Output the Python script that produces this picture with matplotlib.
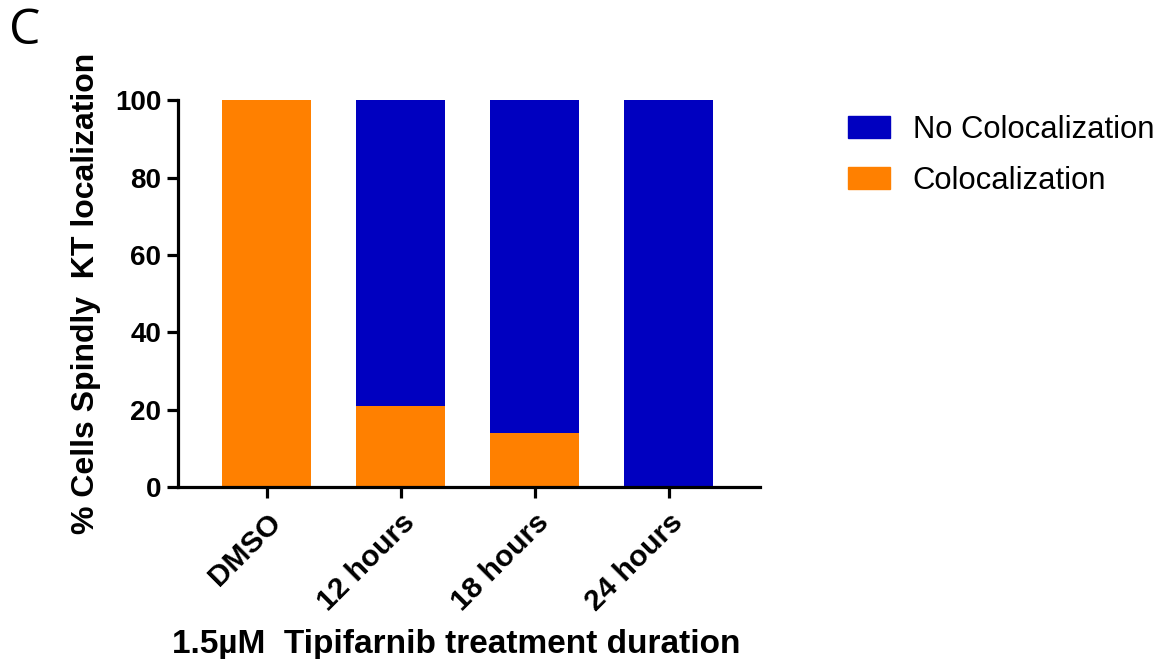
import matplotlib.pyplot as plt
from matplotlib.patches import Patch

# --- DATA ---
groups = ["DMSO", "12 hours", "18 hours", "24 hours"]
coloc = [100, 21, 14, 0]
no_coloc = [0, 79, 86, 100]

BLUE = "#0000C0"
ORANGE = "#FF8000"

plt.rcParams['font.family'] = ['Liberation Sans', 'DejaVu Sans']

fig = plt.figure(figsize=(11.63, 6.59), dpi=100)
ax = fig.add_axes([0.153, 0.261, 0.5005, 0.587])

x = range(len(groups))
ax.bar(x, coloc, width=0.665, color=ORANGE, label="Colocalization")
ax.bar(x, no_coloc, width=0.665, bottom=coloc, color=BLUE, label="No Colocalization")

ax.set_xlim(-0.664, 3.68)
ax.set_ylim(0, 100)
ax.set_yticks([0, 20, 40, 60, 80, 100])
ax.set_xticks(list(x))
ax.set_xticklabels(groups, rotation=45, ha='right', rotation_mode='anchor',
                   fontsize=21.5, fontweight='bold')
for lbl in ax.get_yticklabels():
    lbl.set_fontsize(20)
    lbl.set_fontweight('bold')

for s in ['top', 'right']:
    ax.spines[s].set_visible(False)
for s in ['left', 'bottom']:
    ax.spines[s].set_linewidth(2.3)
ax.tick_params(axis='both', width=2.3, length=8, pad=4)
ax.tick_params(axis='x', pad=7)

ax.set_ylabel("% Cells Spindly  KT localization", fontsize=23, fontweight='bold', labelpad=10)
ax.set_xlabel("1.5µM  Tipifarnib treatment duration", fontsize=24, fontweight='bold')
ax.xaxis.set_label_coords(0.478, -0.428)
ax.xaxis.label.set_verticalalignment('baseline')

handles = [Patch(color=BLUE), Patch(color=ORANGE)]
fig.legend(handles, ["No Colocalization", "Colocalization"], loc='upper left',
           bbox_to_anchor=(0.705, 0.868), frameon=False, fontsize=22.3,
           handlelength=1.35, handleheight=0.7, handletextpad=0.75, labelspacing=0.68)

fig.text(0.008, 0.99, "C", fontsize=36, va='top', ha='left', family=['Open Sans', 'DejaVu Sans'])

fig.savefig("out.png", dpi=100)
